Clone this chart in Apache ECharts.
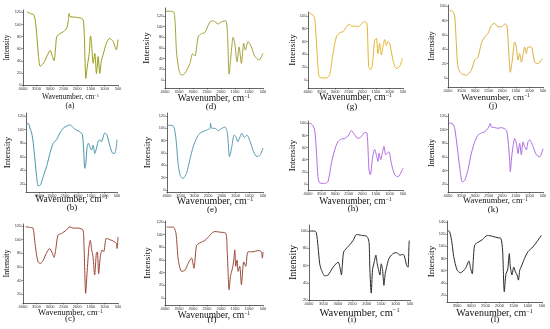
<!DOCTYPE html>
<html><head><meta charset="utf-8">
<script src="https://cdn.jsdelivr.net/npm/echarts@6/dist/echarts.min.js"></script>
<style>html,body{margin:0;padding:0;background:#fff}#c{width:550px;height:329px}</style>
</head><body><div id="c"></div>
<script>
// ---- tick labels ----
const xTicksFull = [4000,3500,3000,2500,2000,1500,1000,500];
const xTicksShort = [3500,3000,2500,2000,1500,1000,500];
const yTicks0_120 = [0,20,40,60,80,100,120];
const yTicks0_100 = [0,20,40,60,80,100];
const yTicks20_120 = [20,40,60,80,100,120];
const yTicks20_100 = [20,40,60,80,100];
const yTicks20_140 = [20,40,60,80,100,120,140];
const xTitle = 'Wavenumber, cm';
const xTitleSup = '−1';
const yTitle = 'Intensity';
const panelLetters = ['(a)','(d)','(g)','(j)','(b)','(e)','(h)','(k)','(c)','(f)','(i)','(l)'];

// ---- spectra: [wavenumber, intensity] ----
const specA = [[3854,121],[3732,118],[3610,116],[3549,107],[3488,80],[3427,47],[3366,31],[3244,36],[3122,47],[3000,57],[2915,47],[2854,40],[2805,58],[2756,80],[2634,85],[2512,88],[2390,94],[2329,107],[2305,118],[2268,113],[2085,112],[1841,110],[1780,107],[1744,85],[1683,11],[1634,30],[1561,52],[1512,81],[1476,69],[1415,36],[1354,52],[1293,19],[1232,47],[1171,19],[1110,41],[1049,50],[927,69],[805,77],[683,72],[561,58],[500,75]];
const specD = [[3964,129],[3703,128],[3644,112],[3585,50],[3490,16],[3407,9],[3288,12.5],[3110,31],[3015,49],[2932,45],[2813,81],[2695,87],[2576,89],[2398,109],[2279,111],[2101,105],[1983,109],[1829,111],[1769,87],[1710,11],[1627,56],[1567,80],[1508,69],[1425,34],[1354,62],[1271,31],[1188,69],[1129,56],[1034,72],[915,62],[798,45],[640,37.5],[500,50]];
const specG = [[3963,105],[3816,101],[3754,96],[3693,62],[3632,21],[3570,4],[3325,3],[3202,8],[3079,41],[2956,67],[2833,74],[2710,75],[2588,83],[2465,87],[2403,84],[2281,84],[2158,83],[2035,87],[1912,91],[1826,88],[1765,21],[1703,16],[1630,23],[1544,62],[1482,65],[1421,41],[1360,57],[1298,39],[1237,52],[1175,63],[1114,54],[1052,60],[991,57],[868,31],[745,18],[622,21],[524,34]];
const specJ = [[3939,94],[3816,92],[3754,86],[3693,48],[3632,15],[3509,6],[3325,4],[3140,11],[3017,25],[2895,29],[2772,48],[2649,57],[2526,62],[2403,73],[2281,76],[2158,71],[2035,71],[1912,75],[1826,73],[1752,29],[1703,8],[1630,25],[1544,50],[1482,43],[1421,25],[1360,34],[1298,22],[1237,32],[1175,43],[1114,34],[1052,43],[930,43],[807,22],[684,20],[561,25],[500,27]];
const specB = [[4000,107],[3911,109],[3847,102],[3783,95],[3719,80],[3655,55],[3591,31],[3527,17],[3438,19],[3336,31],[3208,45.5],[3080,65],[2952,80],[2825,85],[2697,95],[2569,102],[2442,105],[2314,107],[2186,103],[2058,99],[1931,97],[1828,92],[1777,65],[1739,43],[1700,50],[1649,75],[1598,80],[1547,75],[1483,70],[1419,77],[1355,65],[1292,72],[1228,82],[1164,85],[1100,82],[972,95],[883,92],[781,77],[653,65],[589,65],[525,75],[500,85]];
const specE = [[3963,105],[3780,104],[3719,97],[3657,76],[3596,43],[3510,22],[3413,19],[3290,27],[3168,49],[3046,70],[2923,84],[2801,92],[2678,95],[2556,97],[2434,100],[2409,108],[2372,100],[2250,100],[2128,96],[2005,100],[1883,102],[1797,92],[1724,54],[1699,57],[1638,70],[1553,89],[1479,86],[1418,78],[1357,84],[1271,92],[1186,85],[1088,89],[965,78],[843,62],[720,54],[598,57],[500,68]];
const specH = [[3963,100],[3877,99],[3816,96],[3754,89],[3693,56],[3632,12],[3570,2],[3386,1],[3263,4],[3140,34],[3017,56],[2895,70],[2772,74],[2649,75],[2526,79],[2403,88],[2281,81],[2158,75],[2035,78],[1912,85],[1826,84],[1752,23],[1703,15],[1630,40],[1581,53],[1544,57],[1482,48],[1421,37],[1384,51],[1323,40],[1261,51],[1200,62],[1138,48],[1077,51],[1015,53],[930,34],[807,15],[684,12],[561,20],[500,26]];
const specK = [[3963,110],[3816,108],[3754,102],[3693,85],[3632,65],[3570,45],[3472,23],[3386,25],[3263,41],[3140,65],[3017,82],[2895,92],[2772,95],[2649,97],[2526,102],[2440,109],[2403,104],[2281,103],[2158,102],[2035,103],[1851,99],[1789,85],[1728,55],[1703,38],[1667,55],[1605,75],[1544,87],[1482,80],[1421,65],[1360,80],[1298,63],[1237,82],[1175,75],[1114,70],[1052,82],[991,85],[868,75],[745,63],[622,60],[500,72]];
const specC = [[3902,119],[3754,118],[3632,117],[3570,99],[3509,80],[3447,67.5],[3361,65],[3263,69],[3140,80],[3017,87],[2919,80],[2858,74],[2796,85],[2710,107],[2588,109],[2403,114],[2281,119],[2158,117],[1974,117],[1789,114],[1752,90],[1691,21],[1642,50],[1568,90],[1519,99],[1470,85],[1421,75],[1360,48],[1298,80],[1261,82],[1212,50],[1151,75],[1089,85],[1028,82],[930,102],[807,100],[684,98],[561,94.5],[537,87],[500,104]];
const specF = [[3941,112],[3703,112],[3608,102],[3525,60],[3407,42],[3288,44],[3170,55],[3051,63],[2968,47],[2873,83],[2754,87],[2576,91],[2398,99],[2339,102],[2220,105],[2042,104],[1829,102],[1781,76],[1710,13],[1663,34],[1591,47],[1544,60],[1508,76],[1473,50],[1425,60],[1390,42],[1330,50],[1271,21],[1188,57],[1117,50],[1034,73],[856,73],[678,75],[559,73],[524,63],[500,73]];
const specI = [[3977,100],[3803,100],[3745,98],[3687,82],[3629,62],[3571,55],[3455,48],[3339,49],[3166,58],[2992,64],[2911,55],[2876,49],[2841,62],[2795,76],[2644,82],[2470,89],[2354,96],[2180,95],[2006,94],[1948,91],[1914,85],[1890,55],[1844,28],[1798,55],[1740,64],[1682,72],[1636,62],[1590,55],[1543,49],[1497,62],[1450,55],[1404,37],[1358,51],[1311,58],[1253,66],[1195,70],[1079,74],[963,75],[848,72],[732,73],[616,60],[569,58],[523,89],[500,89]];
const specL = [[3833,126],[3762,124],[3679,105],[3619,83],[3500,61],[3381,56.5],[3202,64],[3083,76],[3024,64],[2964,55],[2929,77],[2881,102],[2786,106],[2607,111],[2429,118],[2250,116.5],[2048,114],[1952,113],[1893,94],[1833,25.5],[1774,55],[1714,61],[1655,88],[1619,66],[1560,53],[1500,66],[1440,58],[1381,53],[1333,44.5],[1286,61],[1238,66],[1119,80],[1000,91],[821,99],[643,110],[524,118]];

const spectra = [specA, specD, specG, specJ, specB, specE, specH, specK, specC, specF, specI, specL];
const xTickSets = [xTicksFull,xTicksFull,xTicksFull,xTicksFull,xTicksShort,xTicksFull,xTicksFull,xTicksFull,xTicksFull,xTicksFull,xTicksFull,xTicksShort];
const yTickSets = [yTicks0_120,yTicks0_120,yTicks0_100,yTicks0_100,yTicks20_120,yTicks0_120,yTicks0_100,yTicks20_120,yTicks20_120,yTicks0_120,yTicks20_100,yTicks20_140];

// ---- layout / style (px) ----
const layout = [
 {l:23, w:95, t:10, h:75, ymin:0, ymax:123.8, xmax:4000, xfs:7.5, xgap:8.75, yfs:7.5, ygap:12.25, lx:70, ly:106, lfs:8, color:'#9c9c1c'},
 {l:165,w:98, t:8,  h:80, ymin:-15, ymax:135, xmax:4000, xfs:9.5, xgap:5.25, yfs:9, ygap:13.5, lx:211, ly:107, lfs:9, color:'#a3a33a'},
 {l:308,w:95, t:12, h:76, ymin:-12.5, ymax:106, xmax:4000, xfs:9.5, xgap:4.25, yfs:9, ygap:10.5, lx:352, ly:107, lfs:9, color:'#e6b52e'},
 {l:448,w:95, t:5,  h:82, ymin:-12.5, ymax:101.4, xmax:4000, xfs:9, xgap:6.5, yfs:8.5, ygap:11.75, lx:493, ly:106, lfs:9, color:'#dcb040'},
 {l:26, w:91, t:113,h:79, ymin:8.2, ymax:124.4, xmax:4000, xfs:9.5, xgap:2.5, yfs:9, ygap:13.5, lx:72, ly:208, lfs:9, color:'#4a96ac'},
 {l:167,w:96, t:113,h:79, ymin:-3.2, ymax:124.8, xmax:4000, xfs:10, xgap:4, yfs:9, ygap:14.5, lx:212, ly:210, lfs:9, color:'#5b9db0'},
 {l:308,w:95, t:121,h:69, ymin:-9.9, ymax:103.8, xmax:4000, xfs:9.5, xgap:6.25, yfs:9, ygap:10.5, lx:353, ly:209, lfs:9, color:'#b36ee6'},
 {l:448,w:95, t:114,h:78, ymin:8.2, ymax:123, xmax:4000, xfs:8.5, xgap:4.75, yfs:8, ygap:12, lx:493, ly:210, lfs:9, color:'#ad6ee0'},
 {l:23, w:95, t:224,h:79, ymin:6.8, ymax:123, xmax:4000, xfs:8.5, xgap:5.75, yfs:8, ygap:12, lx:70, ly:319, lfs:9, color:'#9e4636'},
 {l:165,w:98, t:221,h:84, ymin:-11, ymax:121.6, xmax:4000, xfs:9.5, xgap:5.25, yfs:9, ygap:12.5, lx:212, ly:320, lfs:9, color:'#9a4b3c'},
 {l:309,w:101,t:225,h:75, ymin:20, ymax:107, xmax:4000, xfs:10.5, xgap:7.75, yfs:10, ygap:11, lx:352, ly:320, lfs:9, color:'#2a2a2a'},
 {l:447,w:95, t:221,h:81, ymin:8.5, ymax:141.7, xmax:3857, xfs:10, xgap:6, yfs:9, ygap:10.5, lx:495, ly:320, lfs:9, color:'#2a2a2a'}
];

const serif = '"Liberation Serif","DejaVu Serif",serif';
const plain = v => String(v);
const grids=[], xAxes=[], yAxes=[], series=[], graphics=[];
layout.forEach((p,i)=>{
  grids.push({left:p.l, top:p.t, width:p.w, height:p.h, containLabel:false, outerBoundsMode:'none'});
  xAxes.push({gridIndex:i, type:'value', inverse:true, min:500, max:p.xmax,
    axisLine:{show:true, onZero:false, lineStyle:{color:'#222', width:0.7}},
    axisTick:{show:true, customValues:xTickSets[i], length:1.5, lineStyle:{color:'#222', width:0.5}},
    axisLabel:{customValues:xTickSets[i], formatter:plain, fontSize:4, margin:1.5, color:'#333', fontFamily:'Arial, sans-serif'},
    splitLine:{show:false},
    name: xTitle + '{sup|' + xTitleSup + '}', nameLocation:'middle', nameGap:p.xgap, nameMoveOverlap:false,
    nameTextStyle:{fontFamily:serif, fontSize:p.xfs, color:'#111', lineHeight:p.xfs,
      rich:{sup:{fontFamily:serif, fontSize:p.xfs*0.6, verticalAlign:'top', color:'#111'}}}
  });
  yAxes.push({gridIndex:i, type:'value', min:p.ymin, max:p.ymax,
    axisLine:{show:true, onZero:false, lineStyle:{color:'#222', width:0.7}},
    axisTick:{show:true, customValues:yTickSets[i], length:1.5, lineStyle:{color:'#222', width:0.5}},
    axisLabel:{customValues:yTickSets[i], formatter:plain, fontSize:4, margin:1.5, color:'#333', fontFamily:'Arial, sans-serif'},
    splitLine:{show:false},
    name:yTitle, nameLocation:'middle', nameRotate:90, nameGap:p.ygap, nameMoveOverlap:false,
    nameTextStyle:{fontFamily:serif, fontSize:p.yfs, color:'#111'}
  });
  series.push({type:'line', xAxisIndex:i, yAxisIndex:i, data:spectra[i], showSymbol:false,
    smooth:0.25, lineStyle:{width:1, color:p.color}, itemStyle:{color:p.color}, silent:true});
  graphics.push({type:'text', x:p.lx, y:p.ly,
    style:{text:panelLetters[i], fontFamily:serif, fontSize:p.lfs, fill:'#111',
      textAlign:'center', textVerticalAlign:'middle', align:'center', verticalAlign:'middle'}});
});

const chart = echarts.init(document.getElementById('c'), null, {renderer:'canvas'});
chart.setOption({animation:false, backgroundColor:'#fff', grid:grids, xAxis:xAxes, yAxis:yAxes, series:series, graphic:graphics});
</script></body></html>
